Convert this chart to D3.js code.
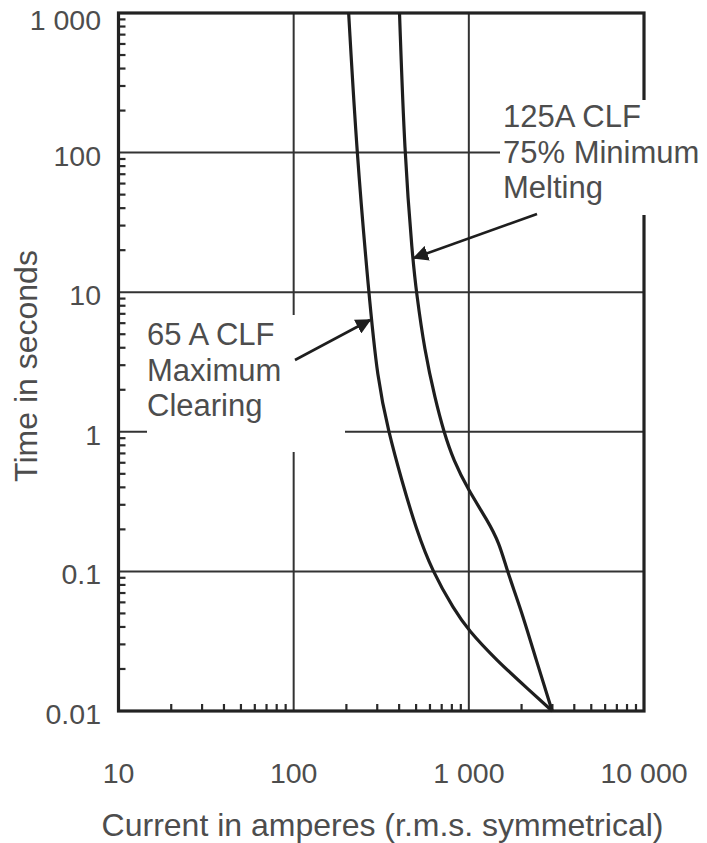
<html lang="en">
<head>
    <meta charset="UTF-8">
    <title>Fuse time-current curves</title>
    <script src="https://cdn.jsdelivr.net/npm/d3@7"></script>
    <style>
        body { margin: 0; background: #fff; }
        text { font-family: "Liberation Sans", Arial, sans-serif; fill: #4d4d4d; }
    </style>
</head>
<body>
<script>
    // values
    let clear65Amps = [206, 229, 268, 301, 348, 413, 502, 619, 826, 993, 1434, 2212, 2990]
    let clear65Secs = [1000, 100, 10, 2.35, 1, 0.452, 0.198, 0.1, 0.0529, 0.038, 0.0232, 0.0141, 0.01]

    let melt125Amps = [402, 429, 477, 502, 558, 644, 720, 816, 993, 1275, 1493, 1657, 1991, 2424, 2990]
    let melt125Secs = [1000, 100, 17.6, 10, 3.85, 1.69, 1, 0.628, 0.383, 0.233, 0.16, 0.1, 0.0529, 0.0232, 0.01]

    let xTicks = [10, 100, 1000, 10000]
    let xTickLabels = ["10", "100", "1 000", "10 000"]
    let yTicks = [1000, 100, 10, 1, 0.1, 0.01]
    let yTickLabels = ["1 000", "100", "10", "1", "0.1", "0.01"]
    let xGrid = [100, 1000]
    let yGrid = [100, 10, 1, 0.1]

    let label65 = ["65 A CLF", "Maximum", "Clearing"]
    let label125 = ["125A CLF", "75% Minimum", "Melting"]

    const W = 707, H = 843
    const pL = 118.5, pR = 644, pT = 13, pB = 711

    let svg = d3.select('body').append('svg')
        .attr('width', W)
        .attr('height', H)

    let x = d3.scaleLog().domain([10, 10000]).range([pL, pR])
    let y = d3.scaleLog().domain([0.01, 1000]).range([pB, pT])

    // minor ticks 2..9 of every decade
    let xMinor = []
    for (let d = 10; d < 10000; d *= 10) for (let k = 2; k < 10; k++) xMinor.push(d * k)
    let yMinor = []
    for (let d = 0.01; d < 999; d *= 10) for (let k = 2; k < 10; k++) yMinor.push(+(d * k).toPrecision(3))

    svg.selectAll('line.xminor').data(xMinor).enter().append('line')
        .attr('x1', d => x(d)).attr('x2', d => x(d))
        .attr('y1', pB).attr('y2', pB - 7)
        .attr('stroke', '#2a2a2a').attr('stroke-width', 2.2)

    svg.selectAll('line.yminor').data(yMinor).enter().append('line')
        .attr('y1', d => y(d)).attr('y2', d => y(d))
        .attr('x1', pL).attr('x2', pL + 7)
        .attr('stroke', '#2a2a2a').attr('stroke-width', 2.2)

    // grid
    svg.selectAll('line.xgrid').data(xGrid).enter().append('line')
        .attr('x1', d => x(d)).attr('x2', d => x(d))
        .attr('y1', pT).attr('y2', pB)
        .attr('stroke', '#333').attr('stroke-width', 2)

    svg.selectAll('line.ygrid').data(yGrid).enter().append('line')
        .attr('y1', d => y(d)).attr('y2', d => y(d))
        .attr('x1', pL).attr('x2', pR)
        .attr('stroke', '#333').attr('stroke-width', 2)

    // frame
    svg.append('rect')
        .attr('x', pL).attr('y', pT)
        .attr('width', pR - pL).attr('height', pB - pT)
        .attr('fill', 'none').attr('stroke', '#222').attr('stroke-width', 3.2)

    // curves, smoothed
    let line = d3.line().x(d => x(d[0])).y(d => y(d[1])).curve(d3.curveBasis)
    let curves = [d3.zip(clear65Amps, clear65Secs), d3.zip(melt125Amps, melt125Secs)]
    svg.selectAll('path.curve').data(curves).enter().append('path')
        .attr('d', line)
        .attr('fill', 'none').attr('stroke', '#1e1e1e').attr('stroke-width', 3.2)

    // tick labels
    svg.selectAll('text.xlab').data(xTicks).enter().append('text')
        .attr('x', d => x(d)).attr('y', 783)
        .attr('text-anchor', 'middle')
        .style('font-size', '28.5px')
        .text((d, i) => xTickLabels[i])

    svg.selectAll('text.ylab').data(yTicks).enter().append('text')
        .attr('x', 101).attr('y', d => Math.max(y(d) + 13, 30))
        .attr('text-anchor', 'end')
        .style('font-size', '28.5px')
        .text((d, i) => yTickLabels[i])

    svg.append('text')
        .attr('x', (105 + 660) / 2).attr('y', 836)
        .attr('text-anchor', 'middle')
        .style('font-size', '32px')
        .text('Current in amperes (r.m.s. symmetrical)')

    svg.append('text')
        .attr('transform', 'translate(37,366) rotate(-90)')
        .attr('text-anchor', 'middle')
        .style('font-size', '32px')
        .text('Time in seconds')

    // annotations
    svg.append('defs').append('marker')
        .attr('id', 'head').attr('viewBox', '0 0 10 10')
        .attr('refX', 9).attr('refY', 5)
        .attr('markerWidth', 6).attr('markerHeight', 6)
        .attr('markerUnits', 'strokeWidth')
        .attr('orient', 'auto')
        .append('path').attr('d', 'M0,0 L10,5 L0,10 z').attr('fill', '#1e1e1e')

    function note(box, lines, tx, ty, from, to) {
        svg.append('rect')
            .attr('x', box[0]).attr('y', box[1]).attr('width', box[2]).attr('height', box[3])
            .attr('fill', '#fff')
        svg.append('text')
            .style('font-size', '31px')
            .selectAll('tspan').data(lines).enter().append('tspan')
            .attr('x', tx).attr('y', (d, i) => ty + i * 35.5)
            .text(d => d)
        svg.append('line')
            .attr('x1', from[0]).attr('y1', from[1])
            .attr('x2', to[0]).attr('y2', to[1])
            .attr('stroke', '#1e1e1e').attr('stroke-width', 2.6)
            .attr('marker-end', 'url(#head)')
    }

    note([147, 315, 198, 137], label65, 147, 345, [295, 360], [370, 320])
    note([500, 100, 207, 115], label125, 503, 127, [537, 214], [414, 258])
</script>
</body>
</html>
